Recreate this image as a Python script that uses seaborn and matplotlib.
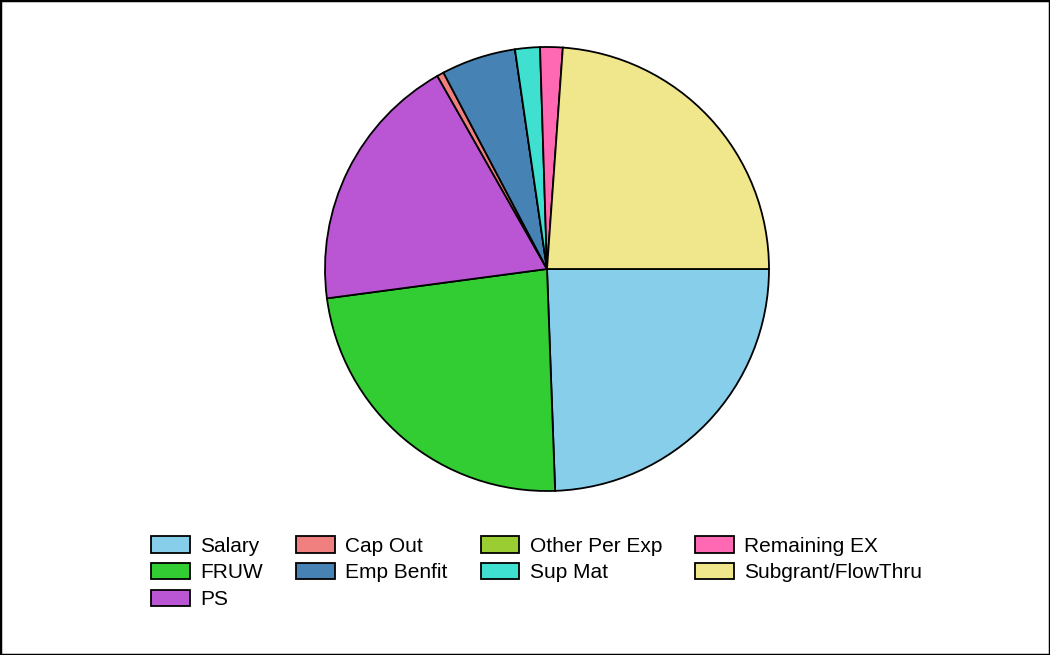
import matplotlib
matplotlib.use("Agg")
import matplotlib.pyplot as plt
from matplotlib.patches import Rectangle
import seaborn as sns

# Budget categories (legend / pie order, clockwise from 3 o'clock)
categories = ["Salary", "FRUW", "PS", "Cap Out", "Emp Benfit",
              "Other Per Exp", "Sup Mat", "Remaining EX", "Subgrant/FlowThru"]
values = [87.9, 84.5, 68.0, 1.8, 19.5, 0.0, 6.5, 5.9, 85.9]
colors = ["#87CEEB", "#32CD32", "#BA55D3", "#F08080", "#4682B4",
          "#9ACD32", "#40E0D0", "#FF69B4", "#F0E68C"]

sns.set_theme(style="white")
plt.rcParams['font.family'] = ['Liberation Sans', 'DejaVu Sans']
plt.rcParams['text.color'] = 'black'

fig = plt.figure(figsize=(10.5, 6.55), dpi=100)
ax = fig.add_axes([325 / 1050, 164 / 655, 444 / 1050, 444 / 655])

palette = sns.color_palette(colors)
wedges, _ = ax.pie(values, colors=palette, startangle=0, counterclock=False,
                   radius=1.0,
                   wedgeprops=dict(edgecolor="black", linewidth=1.3, clip_on=False))
ax.set_xlim(-1.0, 1.0)
ax.set_ylim(-1.0, 1.0)
ax.set_aspect("equal")
ax.axis("off")

# legend laid out column-wise in 4 columns
fig.legend(wedges, categories, ncol=4, loc="upper left",
           bbox_to_anchor=(151 / 1050, 1 - 536 / 655),
           frameon=False, fontsize=15, borderpad=0, borderaxespad=0,
           handlelength=1.85, handleheight=0.85, handletextpad=0.5,
           columnspacing=1.6, labelspacing=0.35)

# outer frame around the image
fig.add_artist(Rectangle((0, 0), 1, 1, transform=fig.transFigure,
                         fill=False, edgecolor="black", linewidth=2.5))

fig.savefig("out.png", dpi=100)
